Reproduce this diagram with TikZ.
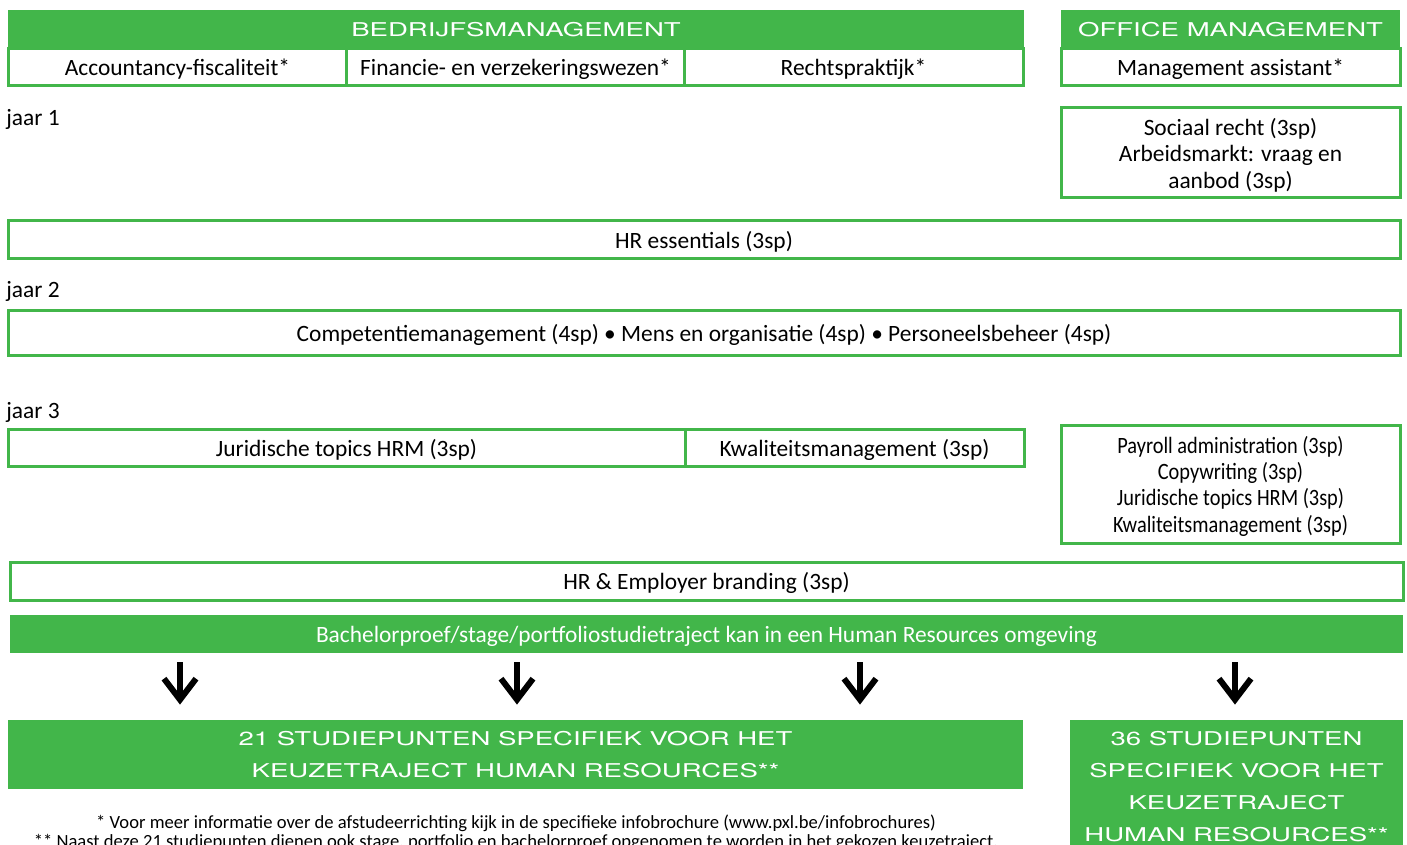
\documentclass[tikz,border=0pt]{standalone}
\usepackage{fontspec}
\setmainfont{Carlito}
\newfontfamily\headfont[FakeStretch=1.45]{TeX Gyre Heros}
\newfontfamily\narrowfont[FakeStretch=0.87]{Carlito}
\usepackage{xcolor}
\usepackage{tikz}
\usetikzlibrary{arrows.meta}
\definecolor{pxlgreen}{RGB}{66,182,74}

\tikzset{
  cell/.style={draw=pxlgreen,line width=1.5pt,fill=white,inner sep=0pt,text depth=0pt,
    font=\fontsize{11.7pt}{13.25pt}\selectfont,align=center},
  band/.style={fill=pxlgreen,inner sep=0pt,text depth=0pt,text=white,
    font=\fontsize{11.7pt}{13.25pt}\selectfont,align=center},
  head/.style={band,font=\headfont\fontsize{9.5pt}{15.7pt}\selectfont},
  jaar/.style={anchor=west,inner sep=0pt,font=\fontsize{11.7pt}{13.25pt}\selectfont},
  down/.style={line width=3pt,line join=miter,
    -{Straight Barb[length=10.5pt,width=16pt,line width=3pt]},
    shorten <=4.5pt,shorten >=7.5pt}
}

\begin{document}
\begin{tikzpicture}[x=0.5pt,y=-0.5pt]
  \useasboundingbox (0,0) rectangle (1407,845);

  % afstudeerrichtingen
  \node[head,minimum width=508pt,minimum height=19.5pt] at (516,29.5) (bedrijf) {BEDRIJFSMANAGEMENT};
  \node[cell,minimum width=169.5pt,minimum height=18.5pt] at (177.5,67.5) (acc) {Accountancy-fiscaliteit*};
  \node[cell,minimum width=169pt,minimum height=18.5pt] at ([xshift=169pt]acc) (fin) {Financie- en verzekeringswezen*};
  \node[cell,minimum width=169.5pt,minimum height=18.5pt] at ([xshift=169pt]fin) (recht) {Rechtspraktijk*};
  \node[head,minimum width=169.5pt,minimum height=19.5pt] at (1230.5,29.5) (office) {OFFICE MANAGEMENT};
  \node[cell,minimum width=169.5pt,minimum height=18.5pt] at (1230.5,67.5) (assist) {Management assistant*};

  % jaar 1
  \node[jaar] at (6,119.5) (j1) {jaar 1};
  \node[cell,minimum width=169.5pt,minimum height=45pt] at (1230.5,153) (sociaal)
    {Sociaal recht (3sp)\\Arbeidsmarkt: vraag en\\aanbod (3sp)};
  \node[cell,minimum width=696pt,minimum height=19pt] at (704,240) (hress) {HR essentials (3sp)};

  % jaar 2
  \node[jaar] at (6,291.5) (j2) {jaar 2};
  \node[cell,minimum width=696pt,minimum height=22.5pt] at (704,332.5) (comp)
    {Competentiemanagement (4sp) • Mens en organisatie (4sp) • Personeelsbeheer (4sp)};

  % jaar 3
  \node[jaar] at (6,412.5) (j3) {jaar 3};
  \node[cell,minimum width=338.5pt,minimum height=18.5pt] at (346.5,447.5) (jur) {Juridische topics HRM (3sp)};
  \node[cell,minimum width=169.5pt,minimum height=18.5pt] at (854.5,447.5) (kwal) {Kwaliteitsmanagement (3sp)};
  \node[cell,minimum width=169.5pt,minimum height=59pt,font=\narrowfont\fontsize{11.7pt}{13.15pt}\selectfont] at (1230.5,484) (payroll)
    {Payroll administration (3sp)\\Copywriting (3sp)\\Juridische topics HRM (3sp)\\Kwaliteitsmanagement (3sp)};
  \node[cell,minimum width=696.5pt,minimum height=19pt] at (706.5,581) (brand) {HR \& Employer branding (3sp)};
  \node[band,minimum width=696.5pt,minimum height=19pt] at (706.5,634) (bach)
    {Bachelorproef/stage/portfoliostudietraject kan in een Human Resources omgeving};

  % studiepunten
  \node[head,minimum width=507.5pt,minimum height=34.5pt] at (515.5,754.5) (sp21)
    {21 STUDIEPUNTEN SPECIFIEK VOOR HET\\KEUZETRAJECT HUMAN RESOURCES**};
  \node[head,minimum width=166.5pt,minimum height=66.5pt,font=\headfont\fontsize{9.5pt}{16pt}\selectfont] at (1236.5,786.5) (sp36)
    {36 STUDIEPUNTEN\\SPECIFIEK VOOR HET\\KEUZETRAJECT\\HUMAN RESOURCES**};

  \coordinate (c1) at (180,0);
  \coordinate (c2) at (517,0);
  \coordinate (c3) at (860,0);
  \coordinate (c4) at (1235,0);
  \draw[down] (c1 |- bach.south) -- (c1 |- sp21.north);
  \draw[down] (c2 |- bach.south) -- (c2 |- sp21.north);
  \draw[down] (c3 |- bach.south) -- (c3 |- sp21.north);
  \draw[down] (c4 |- bach.south) -- (c4 |- sp36.north);

  \node[inner sep=0pt,align=center,font=\fontsize{9.3pt}{9.6pt}\selectfont] at (516,833) (notes)
    {* Voor meer informatie over de afstudeerrichting kijk in de specifieke infobrochure (www.pxl.be/infobrochures)\\
     ** Naast deze 21 studiepunten dienen ook stage, portfolio en bachelorproef opgenomen te worden in het gekozen keuzetraject.};
\end{tikzpicture}
\end{document}
